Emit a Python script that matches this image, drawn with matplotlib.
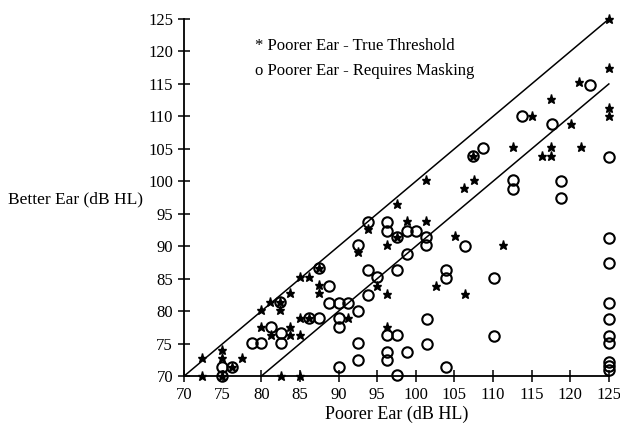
import numpy as np
import matplotlib
matplotlib.use('Agg')
import matplotlib.pyplot as plt

plt.rcParams['font.family'] = ['Liberation Serif', 'DejaVu Serif']

# poorer ear - true threshold (stars)
true_x = [125, 125, 125, 125, 121.2, 117.5, 115, 120.1,
          112.6, 117.5, 116.3, 117.5, 121.4, 107.4,
          101.3, 107.5, 106.2,
          101.3, 98.9, 97.6, 93.8, 97.6, 96.3, 92.5,
          105.1, 111.3, 102.6, 106.4,
          95, 96.3, 96.3,
          87.5, 85, 86.2, 87.5, 87.5, 83.7, 82.4, 81.1, 82.4, 80,
          91.2, 85, 86.2, 85,
          80, 81.3, 83.7, 83.7,
          74.9, 74.9, 72.3, 77.5,
          72.3, 82.5, 85, 74.9, 76.2]
true_y = [125, 117.5, 111.3, 110, 115.3, 112.7, 110, 108.8,
          105.3, 105.3, 103.9, 103.9, 105.3, 103.9,
          100.2, 100.2, 99,
          93.9, 93.9, 96.5, 92.6, 91.4, 90.2, 89.1,
          91.6, 90.2, 83.9, 82.6,
          83.9, 82.6, 77.6,
          86.6, 85.3, 85.3, 84, 82.8, 82.8, 81.4, 81.4, 80.2, 80.2,
          78.9, 78.9, 78.9, 76.3,
          77.6, 76.3, 77.6, 76.3,
          74, 72.8, 72.8, 72.8,
          70, 70, 70, 70, 71.4]

# poorer ear - requires masking (circles)
mask_x = [122.5, 113.7, 117.6, 108.7, 107.4, 125,
          112.6, 112.6, 118.8, 118.8,
          101.3, 101.3, 106.4, 125, 125, 125, 125, 125, 125, 125, 125, 125,
          103.9, 103.9, 110.1, 101.4, 101.4, 110.1, 103.9,
          93.8, 96.3, 96.3, 98.9, 100, 97.6, 92.5, 98.9,
          87.5, 93.8, 97.6, 95, 88.8, 93.8,
          88.8, 90.1, 91.2, 92.5,
          86.2, 87.5, 90.1, 90.1,
          96.3, 97.6, 92.5, 92.5, 96.3, 96.3, 98.9, 90.1, 97.6,
          82.4, 81.3, 82.5, 82.5, 78.8, 80,
          74.9, 76.2, 74.9]
mask_y = [114.8, 110.1, 108.8, 105.1, 103.9, 103.7,
          100.2, 98.8, 100, 97.4,
          91.4, 90.2, 90, 91.3, 87.4, 81.2, 78.8, 76.2, 75.1, 72.2, 71.5, 71.0,
          86.3, 85.1, 85.1, 78.8, 74.9, 76.2, 71.4,
          93.7, 93.7, 92.3, 92.3, 92.3, 91.4, 90.2, 88.8,
          86.6, 86.3, 86.3, 85.3, 83.8, 82.5,
          81.2, 81.2, 81.2, 80,
          78.9, 78.9, 78.9, 77.5,
          76.3, 76.3, 75.1, 72.5, 73.7, 72.5, 73.7, 71.4, 70.2,
          81.4, 77.6, 76.6, 75.1, 75.1, 75.1,
          71.4, 71.4, 70]

# reference lines: equal thresholds and 10 dB interaural difference
equal_x = [70, 125]
equal_y = [70, 125]
diff_x = [80, 125]
diff_y = [70, 115]

ticks = np.arange(70, 126, 5)

fig = plt.figure(figsize=(6.2, 4.23), dpi=100)
ax = fig.add_axes([0.297, 0.111, 0.685, 0.844])

ax.plot(equal_x, equal_y, color='black', lw=1.1, clip_on=False)
ax.plot(diff_x, diff_y, color='black', lw=1.1, clip_on=False)
ax.plot(mask_x, mask_y, linestyle='none', marker='o', markersize=7.5,
        markerfacecolor='none', markeredgecolor='black', markeredgewidth=1.5,
        clip_on=False, zorder=3)
ax.plot(true_x, true_y, linestyle='none', marker='*', markersize=6.5,
        color='black', clip_on=False, zorder=4)

ax.set_xlim(70, 125)
ax.set_ylim(70, 125)
ax.set_xticks(ticks)
ax.set_yticks(ticks)
for s in ['top', 'right']:
    ax.spines[s].set_visible(False)
for s in ['left', 'bottom']:
    ax.spines[s].set_linewidth(1.3)
ax.tick_params(direction='inout', length=8, width=1.1, labelsize=12, pad=4)

ax.set_xlabel('Poorer Ear (dB HL)', fontsize=13, labelpad=2)
ax.set_ylabel('Better Ear (dB HL)', fontsize=12.5, rotation=0, ha='right', va='center')
ax.yaxis.set_label_coords(-0.096, 0.496)

ax.text(0.167, 0.924, '* Poorer Ear - True Threshold', transform=ax.transAxes,
        fontsize=12, va='center')
ax.text(0.167, 0.854, 'o Poorer Ear - Requires Masking', transform=ax.transAxes,
        fontsize=12, va='center')

fig.savefig('out.png', dpi=100)
